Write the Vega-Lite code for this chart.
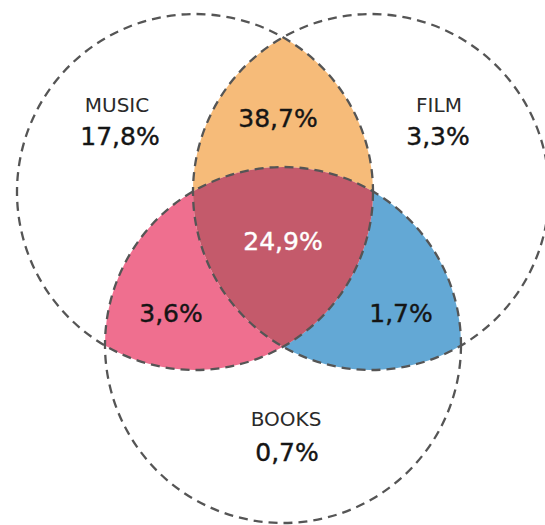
{
  "$schema": "https://vega.github.io/schema/vega-lite/v6.json",
  "width": 545,
  "height": 525,
  "autosize": "none",
  "padding": 0,
  "background": "white",
  "config": {"view": {"stroke": null}},
  "datasets": {
    "sets": [
      {"set": "MUSIC", "cx": 195, "cy": 192},
      {"set": "FILM", "cx": 371, "cy": 192},
      {"set": "BOOKS", "cx": 283, "cy": 345}
    ],
    "overlaps": [
      {"region": "Music & Film", "share": 38.7, "cx": 283, "cy": 243},
      {"region": "Music & Books", "share": 3.6, "cx": 283, "cy": 243},
      {"region": "Film & Books", "share": 1.7, "cx": 283, "cy": 243},
      {"region": "All three", "share": 24.9, "cx": 283, "cy": 243}
    ],
    "labels": [
      {"label": "MUSIC", "kind": "name", "region": "Music", "lx": 117, "ly": 112},
      {"label": "FILM", "kind": "name", "region": "Film", "lx": 439, "ly": 112},
      {"label": "BOOKS", "kind": "name", "region": "Books", "lx": 286, "ly": 426},
      {"label": "17,8%", "kind": "value", "region": "Music", "lx": 120, "ly": 145},
      {"label": "3,3%", "kind": "value", "region": "Film", "lx": 438, "ly": 145},
      {"label": "0,7%", "kind": "value", "region": "Books", "lx": 287, "ly": 461},
      {"label": "38,7%", "kind": "value", "region": "Music & Film", "lx": 278, "ly": 127},
      {"label": "24,9%", "kind": "value", "region": "All three", "lx": 283, "ly": 250},
      {"label": "3,6%", "kind": "value", "region": "Music & Books", "lx": 171, "ly": 322},
      {"label": "1,7%", "kind": "value", "region": "Film & Books", "lx": 401, "ly": 322}
    ]
  },
  "layer": [
    {
      "data": {"name": "overlaps"},
      "mark": {"type": "point", "filled": true, "opacity": 1, "size": 126736, "strokeWidth": 0},
      "encoding": {
        "x": {"field": "cx", "type": "quantitative", "scale": {"domain": [0, 545], "nice": false, "zero": false}, "axis": null},
        "y": {"field": "cy", "type": "quantitative", "scale": {"domain": [0, 525], "nice": false, "zero": false, "reverse": true}, "axis": null},
        "shape": {
          "field": "region", "type": "nominal", "legend": null,
          "scale": {
            "domain": ["Music & Film", "Music & Books", "Film & Books", "All three"],
            "range": [
              "M 0 -1.1558 A 1 1 0 0 1 0.5056 -0.2897 A 1 1 0 0 0 -0.5056 -0.2897 A 1 1 0 0 1 0 -1.1558 Z",
              "M -1 0.5762 A 1 1 0 0 1 -0.5056 -0.2897 A 1 1 0 0 0 0 0.5827 A 1 1 0 0 1 -1 0.5762 Z",
              "M 0 0.5827 A 1 1 0 0 0 0.5056 -0.2897 A 1 1 0 0 1 1 0.5762 A 1 1 0 0 1 0 0.5827 Z",
              "M -0.5056 -0.2897 A 1 1 0 0 1 0.5056 -0.2897 A 1 1 0 0 1 0 0.5827 A 1 1 0 0 1 -0.5056 -0.2897 Z"
            ]
          }
        },
        "color": {
          "field": "region", "type": "nominal", "legend": null,
          "scale": {
            "domain": ["Music & Film", "Music & Books", "Film & Books", "All three"],
            "range": ["#F6BB79", "#EF6F8F", "#63A8D5", "#C45A6B"]
          }
        }
      }
    },
    {
      "data": {"name": "sets"},
      "mark": {"type": "point", "shape": "circle", "filled": false, "opacity": 1, "size": 126736, "stroke": "#555555", "strokeWidth": 2.3, "strokeDash": [9, 6]},
      "encoding": {
        "x": {"field": "cx", "type": "quantitative"},
        "y": {"field": "cy", "type": "quantitative"}
      }
    },
    {
      "data": {"name": "labels"},
      "transform": [{"filter": "datum.kind === 'name'"}],
      "mark": {"type": "text", "align": "center", "baseline": "alphabetic", "font": "DejaVu Sans", "fontSize": 20, "color": "#2a2a2a"},
      "encoding": {
        "x": {"field": "lx", "type": "quantitative"},
        "y": {"field": "ly", "type": "quantitative"},
        "text": {"field": "label"}
      }
    },
    {
      "data": {"name": "labels"},
      "transform": [{"filter": "datum.kind === 'value'"}],
      "mark": {"type": "text", "align": "center", "baseline": "alphabetic", "font": "DejaVu Sans", "fontSize": 25, "stroke": "#151515", "strokeWidth": 0.4},
      "encoding": {
        "x": {"field": "lx", "type": "quantitative"},
        "y": {"field": "ly", "type": "quantitative"},
        "text": {"field": "label"},
        "color": {"condition": {"test": "datum.region === 'All three'", "value": "#ffffff"}, "value": "#151515"},
        "stroke": {"condition": {"test": "datum.region === 'All three'", "value": "#ffffff"}, "value": "#151515"}
      }
    }
  ]
}
